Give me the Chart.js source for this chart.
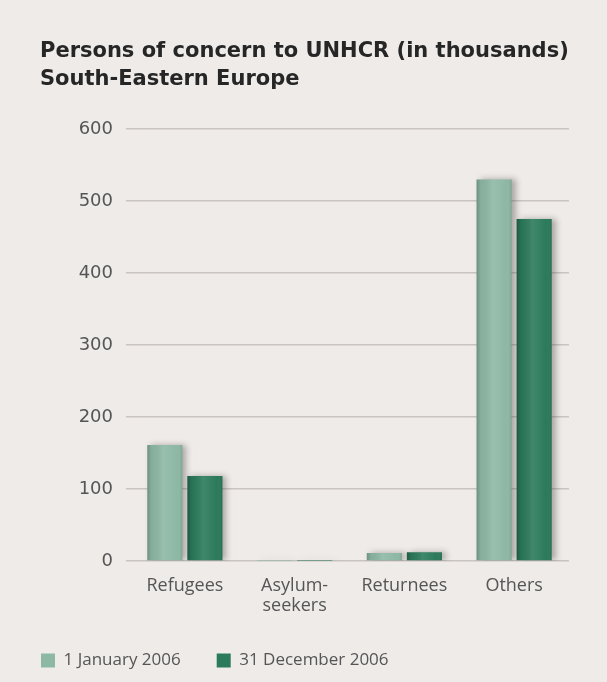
<!DOCTYPE html>
<html>
<head>
<meta charset="utf-8">
<script src="https://cdn.jsdelivr.net/npm/chart.js@4"></script>
<style>
  html, body { margin: 0; padding: 0; background: #efebe9; }
  #wrap { width: 607px; height: 682px; position: relative; }
</style>
</head>
<body>
<div id="wrap"><canvas id="c" width="607" height="682"></canvas></div>
<script>
const titleLines = ["Persons of concern to UNHCR (in thousands)", "South-Eastern Europe"];
const categories = ["Refugees", ["Asylum-", "seekers"], "Returnees", "Others"];
const seriesNames = ["1 January 2006", "31 December 2006"];
const jan2006 = [161, 0.4, 11, 530];
const dec2006 = [118, 0.4, 12, 475];
const yTicks = [0, 100, 200, 300, 400, 500, 600];

const lightGreen = "#8db8a4";
const darkGreen = "#2b7a5b";

const bgPlugin = {
  id: "bg",
  beforeDraw(chart) {
    const c = chart.ctx;
    c.save();
    c.fillStyle = "#efebe9";
    c.fillRect(0, 0, chart.width, chart.height);
    c.restore();
  }
};

const titlePlugin = {
  id: "titleText",
  afterDraw(chart) {
    const c = chart.ctx;
    c.save();
    c.fillStyle = "#262626";
    c.font = "bold 21px 'DejaVu Sans'";
    c.textBaseline = "alphabetic";
    c.textAlign = "left";
    c.fillText(titleLines[0], 40, 57);
    c.fillText(titleLines[1], 40, 85);
    c.restore();
  }
};

const shadePlugin = {
  id: "shade",
  beforeDatasetsDraw(chart) {
    const c = chart.ctx;
    c.save();
    c.shadowColor = "rgba(40,40,40,0.35)";
    c.shadowBlur = 6;
    c.shadowOffsetX = 4;
    c.shadowOffsetY = 0;
  },
  afterDatasetsDraw(chart) {
    const c = chart.ctx;
    c.restore();
    c.save();
    chart.data.datasets.forEach((ds, i) => {
      const meta = chart.getDatasetMeta(i);
      meta.data.forEach(bar => {
        const w = bar.width, x0 = bar.x - w / 2;
        const top = Math.min(bar.y, bar.base), h = Math.abs(bar.base - bar.y);
        if (h < 0.5) return;
        const g = c.createLinearGradient(x0, 0, x0 + w, 0);
        g.addColorStop(0, "rgba(0,0,0,0.22)");
        g.addColorStop(0.12, "rgba(0,0,0,0.05)");
        g.addColorStop(0.45, "rgba(255,255,255,0.10)");
        g.addColorStop(0.85, "rgba(255,255,255,0.0)");
        g.addColorStop(1, "rgba(0,0,0,0.10)");
        c.fillStyle = g;
        c.fillRect(x0, top, w, h);
      });
    });
    c.restore();
  }
};

new Chart(document.getElementById("c"), {
  type: "bar",
  data: {
    labels: categories,
    datasets: [
      { label: seriesNames[0], data: jan2006, backgroundColor: lightGreen, borderWidth: 0 },
      { label: seriesNames[1], data: dec2006, backgroundColor: darkGreen, borderWidth: 0 }
    ]
  },
  options: {
    responsive: false,
    animation: false,
    devicePixelRatio: 1,
    layout: { padding: { top: 129, left: 5, right: 38, bottom: 3 } },
    datasets: { bar: { categoryPercentage: 0.73, barPercentage: 0.875 } },
    plugins: {
      title: { display: false },
      legend: {
        position: "bottom",
        align: "start",
        labels: {
          boxWidth: 14,
          boxHeight: 14,
          padding: 36,
          color: "#555",
          font: { family: "Open Sans", size: 17 }
        }
      },
      tooltip: { enabled: false }
    },
    scales: {
      x: {
        grid: { display: false },
        border: { display: false },
        ticks: { color: "#555", font: { family: "Open Sans", size: 18, lineHeight: 1.1 }, padding: 7 },
        afterFit(axis) { axis.height = 55; }
      },
      y: {
        min: 0,
        max: 600,
        afterBuildTicks(axis) { axis.ticks = yTicks.map(v => ({ value: v })); },
        afterFit(axis) { axis.width = 125; },
        grid: { color: "#c9c4c2", lineWidth: 1.5, drawTicks: true, tickLength: 4 },
        border: { display: false },
        ticks: { color: "#555", font: { family: "DejaVu Sans", size: 18 }, padding: 13 }
      }
    }
  },
  plugins: [bgPlugin, shadePlugin, titlePlugin]
});
</script>
</body>
</html>
